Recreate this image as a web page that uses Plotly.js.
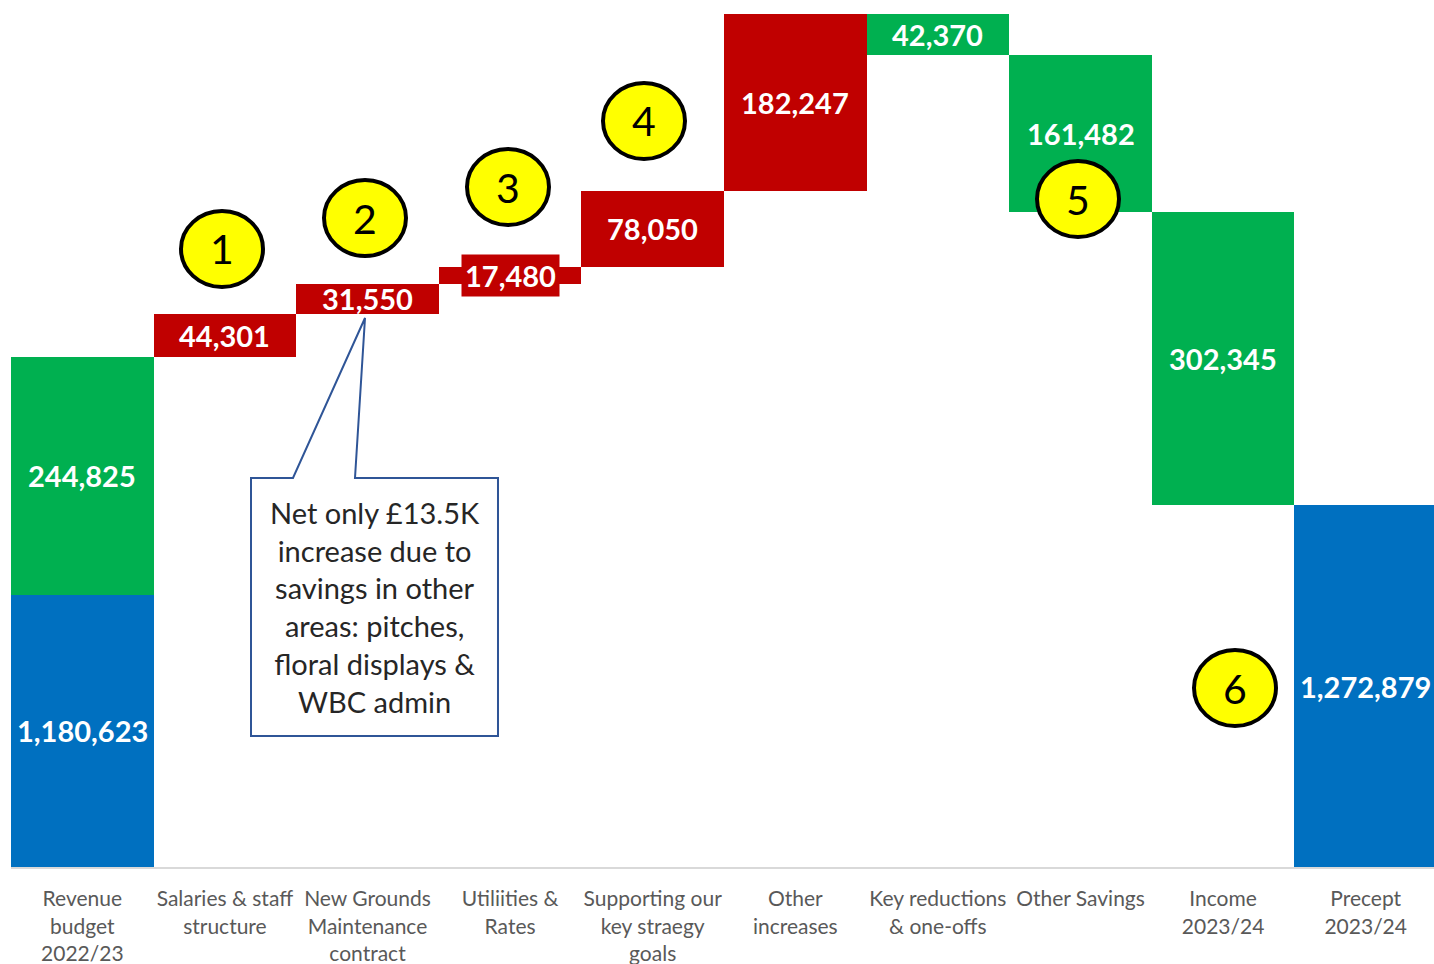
<!DOCTYPE html>
<html>
<head>
<meta charset="utf-8">
<script src="https://cdn.plot.ly/plotly-3.0.1.min.js"></script>
<style>html,body{margin:0;padding:0;background:#fff;}#chart{width:1434px;height:964px;}</style>
</head>
<body>
<div id="chart"></div>
<script>
// ---- data ----
const categories = ['Revenue<br>budget<br>2022/23', 'Salaries & staff<br>structure', 'New Grounds<br>Maintenance<br>contract', 'Utiliities &<br>Rates', 'Supporting our<br>key straegy<br>goals', 'Other<br>increases', 'Key reductions<br>& one-offs', 'Other Savings', 'Income<br>2023/24', 'Precept<br>2023/24'];
const startBudget = 1180623;      // blue part of first bar
const startExtra = 244825;        // green part of first bar
const increases = [44301, 31550, 17480, 78050, 182247];
const decreases = [42370, 161482, 302345];
const precept = 1272879;
const markerNumbers = ['1', '2', '3', '4', '5', '6'];
const calloutText = 'Net only £13.5K<br>increase due to<br>savings in other<br>areas: pitches,<br>floral displays &<br>WBC admin';

// ---- colours ----
const BLUE = '#0070C0', GREEN = '#00B050', RED = '#C00000';
const AXIS_MIN = 900000, AXIS_MAX = 1793500;

// ---- build waterfall ----
const bases = [], heights = [], colors = [];
bases.push(0); heights.push(startBudget); colors.push(BLUE);
let running = startBudget + startExtra;
increases.forEach(v => { bases.push(running); heights.push(v); colors.push(RED); running += v; });
decreases.forEach(v => { running -= v; bases.push(running); heights.push(v); colors.push(GREEN); });
bases.push(0); heights.push(precept); colors.push(BLUE);

const fmt = v => v.toLocaleString('en-GB');

const traces = [
  {type: 'bar', x: categories, y: heights, base: bases, marker: {color: colors, line: {width: 0}},
   width: 1, hoverinfo: 'skip', showlegend: false},
  {type: 'bar', x: [categories[0]], y: [startExtra], base: [startBudget], marker: {color: GREEN, line: {width: 0}},
   width: 1, hoverinfo: 'skip', showlegend: false}
];

// ---- layout geometry (pixel helpers) ----
const L = 11, T = 0, W = 1423, H = 867;
const unitsPerPx = (AXIS_MAX - AXIS_MIN) / H;
const px = x => (x - L) / W;
const py = y => (H - (y - T)) / H;

// value labels (centred on the visible part of each bar)
const annotations = [];
const labelFont = {family: 'Lato, "Open Sans", sans-serif', size: 29, color: '#ffffff', weight: 700};
const addLabel = (i, base, h, col) => {
  const lo = Math.max(base, AXIS_MIN), hi = base + h;
  const thin = (hi - lo) / unitsPerPx < 25;
  const a = {
    x: categories[i], y: (lo + hi) / 2, xref: 'x', yref: 'y', text: '<b>' + fmt(h) + '</b>',
    xanchor: 'center', yanchor: 'middle', showarrow: false, font: labelFont
  };
  if (thin) { a.bgcolor = col; a.borderpad = 3; }
  annotations.push(a);
};
addLabel(0, 0, startBudget, BLUE);
addLabel(0, startBudget, startExtra, GREEN);
for (let i = 1; i < categories.length; i++) addLabel(i, bases[i], heights[i], colors[i]);

const shapes = [];
// callout box with pointer
const pts = [[251,478],[293,478],[365,318],[355,478],[498,478],[498,736],[251,736]];
shapes.push({type: 'path', xref: 'paper', yref: 'paper',
  path: 'M' + pts.map(p => px(p[0]).toFixed(5) + ',' + py(p[1]).toFixed(5)).join(' L') + ' Z',
  fillcolor: '#ffffff', line: {color: '#2F5597', width: 2}});
annotations.push({xref: 'paper', yref: 'paper', x: px(374.5), y: py(607), text: calloutText, showarrow: false,
  xanchor: 'center', yanchor: 'middle',
  font: {family: 'Lato, sans-serif', size: 29, color: '#262626'}, align: 'center'});

// numbered circles
const circles = [[222,249],[365,218],[508,187],[644,121],[1078,199],[1235,688]];
circles.forEach((c, k) => {
  shapes.push({type: 'circle', xref: 'paper', yref: 'paper',
    x0: px(c[0] - 41), x1: px(c[0] + 41), y0: py(c[1] + 38), y1: py(c[1] - 38),
    fillcolor: '#FFFF00', line: {color: '#000000', width: 4}});
  annotations.push({xref: 'paper', yref: 'paper', x: px(c[0]), y: py(c[1]), text: markerNumbers[k], showarrow: false,
    xanchor: 'center', yanchor: 'middle',
    font: {family: 'Lato, sans-serif', size: 41, color: '#000000'}});
});

const layout = {
  width: 1434, height: 964,
  margin: {l: L, r: 0, t: T, b: 97},
  paper_bgcolor: '#ffffff', plot_bgcolor: '#ffffff',
  barmode: 'overlay', bargap: 0,
  xaxis: {type: 'category', range: [-0.5, 9.479], showline: true, linecolor: '#D9D9D9', linewidth: 2, ticks: '', showgrid: false,
    ticklabelstandoff: 12,
    tickfont: {family: 'Lato, sans-serif', size: 21, color: '#595959'}, fixedrange: true},
  yaxis: {range: [AXIS_MIN, AXIS_MAX], visible: false, showgrid: false, zeroline: false, fixedrange: true},
  shapes: shapes, annotations: annotations, showlegend: false
};

Plotly.newPlot('chart', traces, layout, {displayModeBar: false, staticPlot: true});
</script>
</body>
</html>
